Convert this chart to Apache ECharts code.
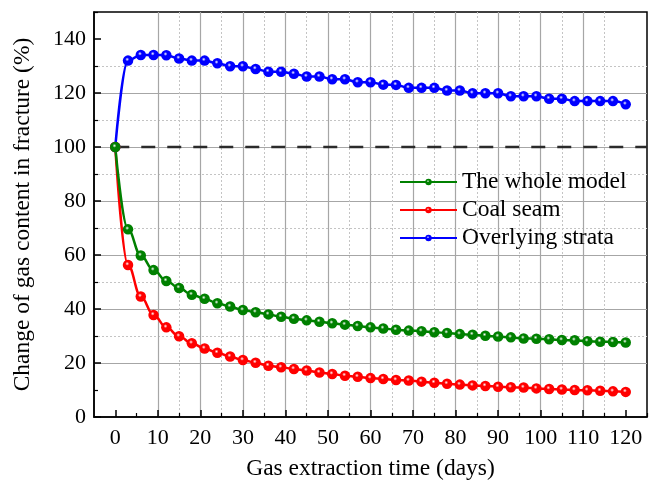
<!DOCTYPE html>
<html>
<head>
<meta charset="utf-8">
<script src="https://cdn.jsdelivr.net/npm/echarts@6/dist/echarts.min.js"></script>
<style>
  html, body { margin: 0; padding: 0; background: #fff; }
  #chart { width: 649px; height: 481px; }
</style>
</head>
<body>
<div id="chart"></div>
<script>
// Sampling times (days)
const days = [0, 3, 6, 9, 12, 15, 18, 21, 24, 27, 30, 33, 36, 39, 42, 45, 48, 51, 54, 57, 60,
  63, 66, 69, 72, 75, 78, 81, 84, 87, 90, 93, 96, 99, 102, 105, 108, 111, 114, 117, 120];

// Relative gas content in fracture (%)
const wholeModel = [100, 69.5, 59.8, 54.4, 50.4, 47.8, 45.3, 43.8, 42.1, 40.9, 39.6, 38.8, 38.0,
  37.1, 36.4, 35.8, 35.3, 34.7, 34.2, 33.7, 33.2, 32.8, 32.3, 32.0, 31.8, 31.4, 31.1, 30.7, 30.5,
  30.1, 29.8, 29.5, 29.1, 29.0, 28.8, 28.5, 28.4, 28.1, 27.9, 27.8, 27.6];
const coalSeam = [100, 56.3, 44.6, 37.8, 33.2, 29.9, 27.3, 25.4, 23.8, 22.4, 21.1, 20.1, 19.0,
  18.4, 17.8, 17.2, 16.5, 15.9, 15.3, 14.9, 14.4, 14.1, 13.7, 13.5, 13.1, 12.7, 12.3, 12.0, 11.7,
  11.5, 11.2, 11.0, 10.9, 10.6, 10.4, 10.2, 10.0, 9.9, 9.7, 9.5, 9.3];
const overlyingStrata = [100, 132.0, 134.1, 134.1, 134.0, 132.8, 132.0, 132.0, 131.0, 129.9, 129.9,
  128.9, 127.9, 127.9, 127.1, 126.1, 126.1, 125.1, 125.1, 124.0, 124.0, 123.1, 123.0, 121.9, 121.9,
  121.9, 120.9, 120.9, 119.9, 119.9, 119.9, 118.8, 118.8, 118.8, 117.9, 117.9, 117.0, 117.0, 117.0,
  117.0, 115.8];

// Reference level (initial content)
const baseline = [[0, 100], [125, 100]];

// Axis ticks
const xMajorTicks = [0, 10, 20, 30, 40, 50, 60, 70, 80, 90, 100, 110, 120];
const xMinorTicks = [5, 15, 25, 35, 45, 55, 65, 75, 85, 95, 105, 115, 125];
const yMajorTicks = [0, 20, 40, 60, 80, 100, 120, 140];
const yMinorTicks = [10, 30, 50, 70, 90, 110, 130, 150];

const seriesNames = ['The whole model', 'Coal seam', 'Overlying strata'];

const FONT = "'Liberation Serif', 'Times New Roman', serif";

function pairs(xs, ys) {
  return xs.map((x, i) => [x, ys[i]]);
}

// Shaded ball marker: bright spot near the top left fading into the line colour
function glossy(base) {
  return {
    type: 'radial', x: 0.42, y: 0.38, r: 0.62,
    colorStops: [
      { offset: 0, color: '#ffffff' },
      { offset: 0.3, color: base },
      { offset: 1, color: base }
    ]
  };
}

function curve(name, color, values) {
  return {
    name: name,
    type: 'line',
    data: pairs(days, values),
    smooth: 0.4,
    smoothMonotone: 'x',
    symbol: 'circle',
    symbolSize: 10.5,
    lineStyle: { color: color, width: 2.5 },
    itemStyle: { color: glossy(color), borderWidth: 0 },
    z: 5
  };
}

const chart = echarts.init(document.getElementById('chart'), null, { renderer: 'canvas' });

const axisText = { fontFamily: FONT, fontSize: 22, color: '#000' };
const titleText = { fontFamily: FONT, fontSize: 23.5, color: '#000' };

chart.setOption({
  animation: false,
  backgroundColor: '#fff',
  grid: {
    left: 94, right: 2, top: 12, bottom: 64,
    outerBoundsMode: 'none',
    containLabel: false,
    show: true, borderColor: '#000', borderWidth: 1.5, backgroundColor: 'transparent'
  },
  legend: {
    data: seriesNames,
    orient: 'vertical',
    left: 399, top: 170,
    padding: 0,
    itemWidth: 57, itemHeight: 8, itemGap: 4,
    textStyle: { fontFamily: FONT, fontSize: 23.5, color: '#000' }
  },
  xAxis: [
    {
      type: 'value', min: -5, max: 125,
      name: 'Gas extraction time (days)', nameLocation: 'middle', nameGap: 40,
      nameTextStyle: titleText,
      axisLine: { show: true, onZero: false, lineStyle: { color: '#000', width: 1.5 } },
      axisTick: { show: true, inside: true, length: 7, customValues: xMajorTicks,
        lineStyle: { color: '#000', width: 1.5 } },
      axisLabel: { customValues: xMajorTicks, margin: 10, ...axisText },
      splitLine: { show: true, showMinLine: false, showMaxLine: false,
        lineStyle: { color: '#a6a6a6', width: 1.2, type: 'solid' } }
    },
    {
      type: 'value', min: -5, max: 125, position: 'bottom',
      axisLine: { show: false, onZero: false },
      axisTick: { show: true, inside: true, length: 4, customValues: xMinorTicks,
        lineStyle: { color: '#000', width: 1.2 } },
      axisLabel: { show: false, customValues: xMinorTicks },
      splitLine: { show: true, showMinLine: false, showMaxLine: false,
        lineStyle: { color: '#c4c4c4', width: 1, type: [2, 2] } }
    }
  ],
  yAxis: [
    {
      type: 'value', min: 0, max: 150,
      name: 'Change of gas content in fracture (%)', nameLocation: 'middle', nameGap: 59,
      nameTextStyle: titleText,
      axisLine: { show: true, onZero: false, lineStyle: { color: '#000', width: 1.5 } },
      axisTick: { show: true, inside: true, length: 7, customValues: yMajorTicks,
        lineStyle: { color: '#000', width: 1.5 } },
      axisLabel: { customValues: yMajorTicks, margin: 8, ...axisText },
      splitLine: { show: true, showMinLine: false, showMaxLine: false,
        lineStyle: { color: '#a6a6a6', width: 1.2, type: 'solid' } }
    },
    {
      type: 'value', min: 0, max: 150, position: 'left',
      axisLine: { show: false, onZero: false },
      axisTick: { show: true, inside: true, length: 4, customValues: yMinorTicks,
        lineStyle: { color: '#000', width: 1.2 } },
      axisLabel: { show: false, customValues: yMinorTicks },
      splitLine: { show: true, showMinLine: false, showMaxLine: false,
        lineStyle: { color: '#c4c4c4', width: 1, type: [2, 2] } }
    }
  ],
  series: [
    {
      name: 'baseline',
      type: 'line',
      data: baseline,
      symbol: 'none',
      silent: true,
      lineStyle: { color: '#2b2b2b', width: 2.5, type: [14, 12] },
      z: 3
    },
    curve('Overlying strata', '#0000ff', overlyingStrata),
    curve('Coal seam', '#ff0000', coalSeam),
    curve('The whole model', '#008000', wholeModel)
  ]
});
</script>
</body>
</html>
